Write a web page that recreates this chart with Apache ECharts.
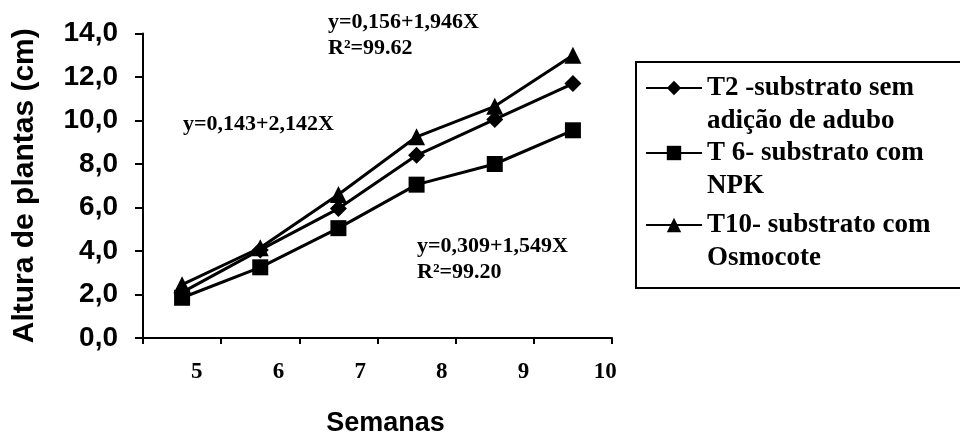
<!DOCTYPE html>
<html><head><meta charset="utf-8">
<script src="https://cdn.jsdelivr.net/npm/echarts@6/dist/echarts.min.js"></script>
<style>html,body{margin:0;padding:0;background:#fff}#c{width:960px;height:447px}</style>
</head><body><div id="c"></div>
<script>
var weeks = ['5','6','7','8','9','10'];
var yTicks = ['0,0','2,0','4,0','6,0','8,0','10,0','12,0','14,0'];
var nameT2 = 'T2 -substrato sem\nadição de adubo';
var nameT6 = 'T 6- substrato com\nNPK';
var nameT10 = 'T10- substrato com\nOsmocote';
var t2 = [2.1, 4.05, 5.95, 8.4, 10.05, 11.7];
var t6 = [1.85, 3.25, 5.05, 7.05, 8.0, 9.55];
var t10 = [2.45, 4.15, 6.6, 9.25, 10.65, 13.0];
var eqT10 = ['y=0,156+1,946X', 'R²=99.62'];
var eqT2 = ['y=0,143+2,142X'];
var eqT6 = ['y=0,309+1,549X', 'R²=99.20'];

var chart = echarts.init(document.getElementById('c'), null, {renderer:'canvas'});
var serif = 'Liberation Serif';
var sans = 'Liberation Sans';
function legendFor(name, top){
  return {
    data:[name], left:645, top:top, padding:0, orient:'vertical',
    itemWidth:56, itemHeight:18,
    formatter:function(n){ return ' \n' + n; },
    textStyle:{fontFamily:serif, fontWeight:'bold', fontSize:27, color:'#000', lineHeight:33}
  };
}
function ser(name, data, symbol, size){
  return {name:name, type:'line', data:data, symbol:symbol, symbolSize:size,
    lineStyle:{color:'#000', width:3}, itemStyle:{color:'#000'}, animation:false};
}
chart.setOption({
  animation:false,
  grid:[
    {left:143, right:348, top:33.5, bottom:109},
    {left:156, right:314, top:33.5, bottom:109}
  ],
  xAxis:[
    {type:'category', data:weeks, gridIndex:0, boundaryGap:true,
     axisLine:{lineStyle:{color:'#000', width:2}},
     axisTick:{show:true, length:6, lineStyle:{color:'#000', width:2}},
     axisLabel:{show:false},
     name:'Semanas', nameLocation:'middle', nameGap:72,
     nameTextStyle:{fontFamily:sans, fontWeight:'bold', fontSize:27, color:'#000', padding:[0,0,0,16]}},
    {type:'category', data:weeks, gridIndex:1, boundaryGap:true,
     axisLine:{show:false}, axisTick:{show:false},
     axisLabel:{margin:23, fontFamily:serif, fontWeight:'bold', fontSize:23, color:'#000'}}
  ],
  yAxis:[
    {type:'value', min:0, max:14, interval:2, gridIndex:0,
     axisLine:{show:true, lineStyle:{color:'#000', width:2}},
     axisTick:{show:true, length:8, lineStyle:{color:'#000', width:2}},
     splitLine:{show:false},
     axisLabel:{margin:25, fontFamily:sans, fontWeight:'bold', fontSize:28, color:'#000',
       formatter:function(v){ return yTicks[Math.round(v/2)]; }},
     name:'Altura de plantas (cm)', nameLocation:'middle', nameGap:103,
     nameTextStyle:{fontFamily:sans, fontWeight:'bold', fontSize:30, color:'#000'}},
    {type:'value', min:0, max:14, gridIndex:1, show:false}
  ],
  legend:[legendFor(nameT2, 38.5), legendFor(nameT6, 103.5), legendFor(nameT10, 175.5)],
  series:[
    ser(nameT2, t2, 'diamond', 17),
    ser(nameT6, t6, 'rect', 16),
    ser(nameT10, t10, 'triangle', 17)
  ],
  graphic:[
    {type:'rect', shape:{x:636, y:62, width:340, height:226}, style:{fill:'none', stroke:'#000', lineWidth:2}},
    {type:'text', left:328, top:9, style:{text:eqT10.join('\n'), fontFamily:serif, fontWeight:'bold', fontSize:22, lineHeight:26, fill:'#000'}},
    {type:'text', left:183, top:111, style:{text:eqT2.join('\n'), fontFamily:serif, fontWeight:'bold', fontSize:22, lineHeight:26, fill:'#000'}},
    {type:'text', left:417, top:233, style:{text:eqT6.join('\n'), fontFamily:serif, fontWeight:'bold', fontSize:22, lineHeight:26, fill:'#000'}}
  ]
});
</script></body></html>
